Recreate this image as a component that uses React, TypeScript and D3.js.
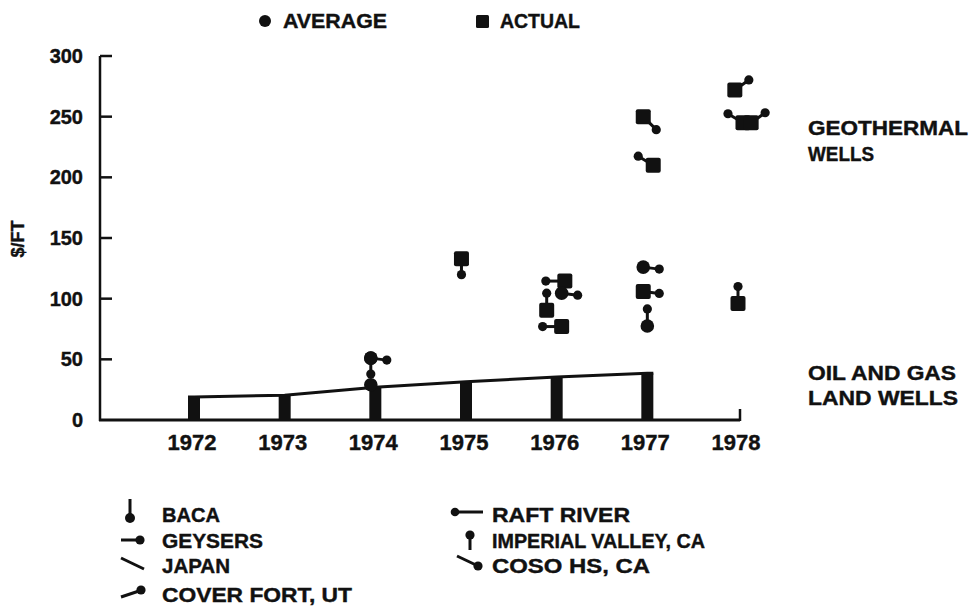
import React from 'react';
import * as d3 from 'd3';

// ---------- data ----------
const years = [1972, 1973, 1974, 1975, 1976, 1977, 1978];
const yTicks = [0, 50, 100, 150, 200, 250, 300];

// oil & gas land wells, $/ft
const oilGasYears = [1972, 1973, 1974, 1975, 1976, 1977];
const oilGasCost = [19, 20.5, 27, 31.5, 35.5, 38.5];

type Kind = 'avg' | 'act';
type Project = 'BACA' | 'GEYSERS' | 'JAPAN' | 'COVERFORT' | 'RAFT' | 'IMPERIAL' | 'COSO' | null;

// geothermal wells: at = position along the year axis (decimal year), cost = $/ft
const geoAt = [1973.95, 1973.95, 1973.95, 1974.95, 1976.09, 1976.055, 1975.89, 1976.055, 1976.955, 1977.065, 1976.955, 1976.955, 1977.0, 1977.965, 1978.055, 1978.145, 1978.0];
const geoCost = [51, 51, 29, 133, 114.5, 104.5, 90.5, 77, 250, 210, 126, 106, 77.5, 272, 245, 245, 96];
const geoKind: Kind[] = ['avg', 'avg', 'avg', 'act', 'act', 'avg', 'act', 'act', 'act', 'act', 'avg', 'act', 'avg', 'act', 'act', 'act', 'act'];
const geoProject: Project[] = ['GEYSERS', 'BACA', null, 'BACA', 'RAFT', 'GEYSERS', 'IMPERIAL', 'RAFT', 'COSO', 'JAPAN', 'GEYSERS', 'GEYSERS', 'IMPERIAL', 'COVERFORT', 'JAPAN', 'COVERFORT', 'IMPERIAL'];

const legendLeft = ['BACA', 'GEYSERS', 'JAPAN', 'COVER FORT, UT'];
const legendRight = ['RAFT RIVER', 'IMPERIAL VALLEY, CA', 'COSO HS, CA'];

// ---------- style ----------
const W = 974;
const H = 609;
const FONT = '"Liberation Sans", Arial, Helvetica, sans-serif';
const INK = '#111';

const flagOffset: Record<string, [number, number]> = {
  BACA: [0, 16],
  GEYSERS: [16, 2],
  RAFT: [-19, 0],
  IMPERIAL: [0, -17],
  COSO: [13, 13],
  JAPAN: [-15, -9],
  COVERFORT: [14, -10],
};

export default function App() {
  const x = d3.scaleLinear().domain([1972, 1978]).range([194, 738]);
  const y = d3.scaleLinear().domain([0, 300]).range([420, 56]);
  const axisLeft = 100;
  const axisRight = 740;
  const barW = 12;
  const sq = 15;
  const rAvg = 6.8;
  const rFlag = 4.6;

  const linePts: [number, number][] = [];
  oilGasYears.forEach((yr, i) => {
    if (i === 0) linePts.push([x(yr) - barW / 2, y(oilGasCost[i])]);
    linePts.push([x(yr), y(oilGasCost[i])]);
    if (i === oilGasYears.length - 1) linePts.push([x(yr) + barW / 2, y(oilGasCost[i])]);
  });
  const line = d3.line<[number, number]>()(linePts) || '';

  const textBold = { fontFamily: FONT, fontWeight: 700, fill: INK, stroke: INK, strokeWidth: 0.4 } as const;

  const geoIdx = geoAt.map((_, i) => i);

  return (
    <svg width={W} height={H} style={{ position: 'absolute', left: 0, top: 0, background: '#fff' }}>
      <rect width={W} height={H} fill="#fff" />

      {/* top legend */}
      <circle cx={265} cy={21} r={6} fill={INK} />
      <text x={283} y={28} fontSize={20} textLength={104} lengthAdjust="spacingAndGlyphs" {...textBold}>AVERAGE</text>
      <rect x={476} y={15} width={13} height={13} rx={1.5} fill={INK} />
      <text x={500} y={28} fontSize={20} textLength={80} lengthAdjust="spacingAndGlyphs" {...textBold}>ACTUAL</text>

      {/* y axis */}
      <line x1={axisLeft} y1={y(300)} x2={axisLeft} y2={y(0) + 1} stroke={INK} strokeWidth={2.5} />
      {yTicks.map((t) => (
        <g key={t}>
          {t > 0 && <line x1={axisLeft} x2={axisLeft + 12} y1={y(t)} y2={y(t)} stroke={INK} strokeWidth={2.5} />}
          <text x={83} y={y(t) + 7} fontSize={20} textAnchor="end" {...textBold}>{t}</text>
        </g>
      ))}
      <text transform={`translate(24, 239) rotate(-90)`} fontSize={18} textAnchor="middle" {...textBold}>$/FT</text>

      {/* x axis */}
      <line x1={axisLeft - 1} x2={axisRight} y1={y(0)} y2={y(0)} stroke={INK} strokeWidth={3} />
      <line x1={axisRight} x2={axisRight} y1={y(0) + 1} y2={y(0) - 11} stroke={INK} strokeWidth={2.5} />
      {years.map((yr) => (
        <text key={yr} x={x(yr) - 2} y={450} fontSize={22} textAnchor="middle" {...textBold}>{yr}</text>
      ))}

      {/* oil & gas bars and line */}
      {oilGasYears.map((yr, i) => (
        <rect key={yr} x={x(yr) - barW / 2} y={y(oilGasCost[i])} width={barW} height={y(0) - y(oilGasCost[i])} fill={INK} />
      ))}
      <path d={line} fill="none" stroke={INK} strokeWidth={3} />

      {/* geothermal points */}
      {geoIdx.map((i) => {
        const cx = x(geoAt[i]);
        const cy = y(geoCost[i]);
        const p = geoProject[i];
        const off = p ? flagOffset[p] : null;
        return (
          <g key={'f' + i}>
            {off && (
              <>
                <line x1={cx} y1={cy} x2={cx + off[0]} y2={cy + off[1]} stroke={INK} strokeWidth={3} />
                <circle cx={cx + off[0]} cy={cy + off[1]} r={rFlag} fill={INK} />
              </>
            )}
          </g>
        );
      })}
      {geoIdx.map((i) => {
        const cx = x(geoAt[i]);
        const cy = y(geoCost[i]);
        return geoKind[i] === 'avg' ? (
          <circle key={'m' + i} cx={cx} cy={cy} r={rAvg} fill={INK} />
        ) : (
          <rect key={'m' + i} x={cx - sq / 2} y={cy - sq / 2} width={sq} height={sq} rx={2} fill={INK} />
        );
      })}

      {/* right labels */}
      <text x={808} y={135} fontSize={20} textLength={160} lengthAdjust="spacingAndGlyphs" {...textBold}>GEOTHERMAL</text>
      <text x={808} y={161} fontSize={20} textLength={66} lengthAdjust="spacingAndGlyphs" {...textBold}>WELLS</text>
      <text x={808} y={380} fontSize={20} textLength={148} lengthAdjust="spacingAndGlyphs" {...textBold}>OIL AND GAS</text>
      <text x={808} y={405} fontSize={20} textLength={150} lengthAdjust="spacingAndGlyphs" {...textBold}>LAND WELLS</text>

      {/* bottom legend icons */}
      <line x1={130} y1={499} x2={130} y2={516} stroke={INK} strokeWidth={3} />
      <circle cx={130} cy={518} r={5} fill={INK} />
      <line x1={121} y1={540} x2={138} y2={540} stroke={INK} strokeWidth={3} />
      <circle cx={140} cy={540} r={4.6} fill={INK} />
      <line x1={121} y1={558} x2={144} y2={569} stroke={INK} strokeWidth={3} />
      <line x1={121} y1={597} x2={139} y2={591} stroke={INK} strokeWidth={3} />
      <circle cx={141} cy={590} r={4.6} fill={INK} />

      <circle cx={455} cy={512} r={4.3} fill={INK} />
      <line x1={455} y1={512} x2={483} y2={512} stroke={INK} strokeWidth={3} />
      <circle cx={470} cy={535} r={4.6} fill={INK} />
      <line x1={470} y1={535} x2={470} y2={550} stroke={INK} strokeWidth={3} />
      <line x1={457} y1={556} x2={476} y2={565} stroke={INK} strokeWidth={3} />
      <circle cx={478} cy={566} r={4.6} fill={INK} />

      {legendLeft.map((t, i) => (
        <text key={t} x={162} y={[522, 548, 573, 602][i]} fontSize={20}
          textLength={[58, 101, 68, 190][i]} lengthAdjust="spacingAndGlyphs" {...textBold}>{t}</text>
      ))}
      {legendRight.map((t, i) => (
        <text key={t} x={492} y={[522, 548, 573][i]} fontSize={20}
          textLength={[138, 213, 158][i]} lengthAdjust="spacingAndGlyphs" {...textBold}>{t}</text>
      ))}
    </svg>
  );
}
